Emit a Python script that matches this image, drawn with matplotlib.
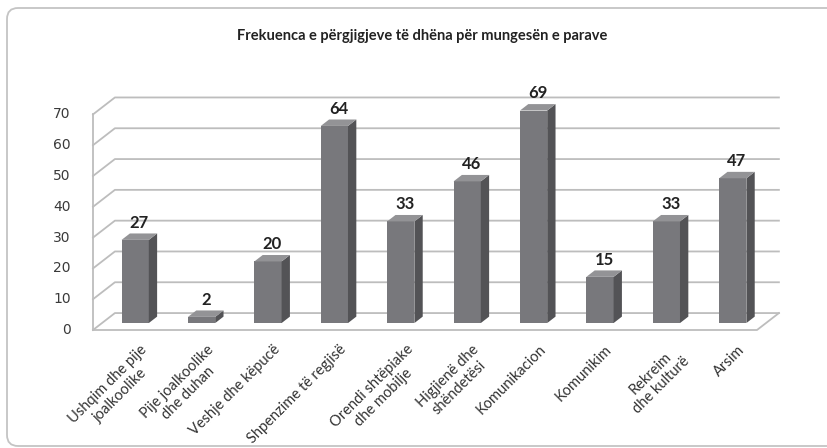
import numpy as np
import matplotlib
matplotlib.use("Agg")
import matplotlib.pyplot as plt
from matplotlib.patches import FancyBboxPatch, Polygon
from matplotlib.transforms import IdentityTransform

# data
categories = [
    "Ushqim dhe pije\njoalkoolike",
    "Pije joalkoolike\ndhe duhan",
    "Veshje dhe këpucë",
    "Shpenzime të regjisë",
    "Orendi shtëpiake\ndhe mobilje",
    "Higjienë dhe\nshëndetësi",
    "Komunikacion",
    "Komunikim",
    "Rekreim\ndhe kulturë",
    "Arsim",
]
values = [27, 2, 20, 64, 33, 46, 69, 15, 33, 47]
y_ticks = [0, 10, 20, 30, 40, 50, 60, 70]
title = "Frekuenca e përgjigjeve të dhëna për mungesën e parave"

# pseudo-3d geometry (data units)
DX, DY = 0.33, 5.5          # depth of the walls
BAR_W = 0.41
BAR_F = 0.41                # bar front face sits at this fraction of the depth
BAR_D = 0.38                # bar depth as fraction of wall depth

FRONT = "#78787c"
SIDE = "#535356"
TOP = "#939396"
GRID = "#bdbdbd"

fig = plt.figure(figsize=(8.27, 4.48), dpi=100)
ax = fig.add_axes([0, 0, 1, 1])
ax.set_xlim(-0.5 - 93 / 66.4, -0.5 + (827 - 93) / 66.4)
ax.set_ylim(-(448 - 330) / 3.08, 330 / 3.08)
ax.axis("off")

n = len(categories)
x = np.arange(n)
ymax = y_ticks[-1]

# walls and gridlines
ax.plot([-0.5, -0.5], [0, ymax], color=GRID, lw=1.3, zorder=1)
for v in y_ticks:
    ax.plot([-0.5, -0.5 + DX, n - 0.5 + DX], [v, v + DY, v + DY],
            color=GRID, lw=1.3, zorder=1)
    ax.annotate(str(v), xy=(-0.5, v), xytext=(-16, 0), textcoords="offset points",
                ha="right", va="center", fontsize=10, color="#3a3a3a",
                family="DejaVu Sans")
# floor
ax.plot([-0.5, n - 0.5, n - 0.5 + DX], [0, 0, DY], color=GRID, lw=1.3, zorder=1)

# bars
fx, fy = BAR_F * DX, BAR_F * DY
bdx, bdy = BAR_D * DX, BAR_D * DY
ax.bar(x + fx, values, width=BAR_W, bottom=fy, color=FRONT, zorder=3)
for xi, v in zip(x, values):
    l = xi + fx - BAR_W / 2
    r = xi + fx + BAR_W / 2
    b = fy
    t = fy + v
    ax.add_patch(Polygon([(r, b), (r + bdx, b + bdy), (r + bdx, t + bdy), (r, t)],
                         closed=True, facecolor=SIDE, edgecolor="none", zorder=3))
    ax.add_patch(Polygon([(l, t), (l + bdx, t + bdy), (r + bdx, t + bdy), (r, t)],
                         closed=True, facecolor=TOP, edgecolor="none", zorder=3))
    ax.annotate(str(v), xy=(xi + fx + bdx / 2, t + bdy), xytext=(0, 2),
                textcoords="offset points", ha="center", va="bottom",
                fontsize=12, fontweight="bold", color="#222222", family="Lato")

# category labels
for xi, lab in zip(x, categories):
    ax.annotate(lab, xy=(xi, 0), xytext=(10, -9), textcoords="offset points",
                ha="right", va="top", rotation=45, rotation_mode="anchor",
                multialignment="center", fontsize=10.5, color="#333333",
                family="Lato")

fig.text(422 / 827, 1 - 36 / 448, title, ha="center", va="center",
         fontsize=10.5, fontweight="bold", color="#222222", family="Lato")

# rounded chart frame, partly outside the image like in the reference
frame = FancyBboxPatch((7, 2), 860, 438, boxstyle="round,pad=0,rounding_size=11",
                       transform=IdentityTransform(), facecolor="none",
                       edgecolor="#c4c4c4", lw=1.3)
fig.patches.append(frame)

fig.savefig("out.png", dpi=100)
